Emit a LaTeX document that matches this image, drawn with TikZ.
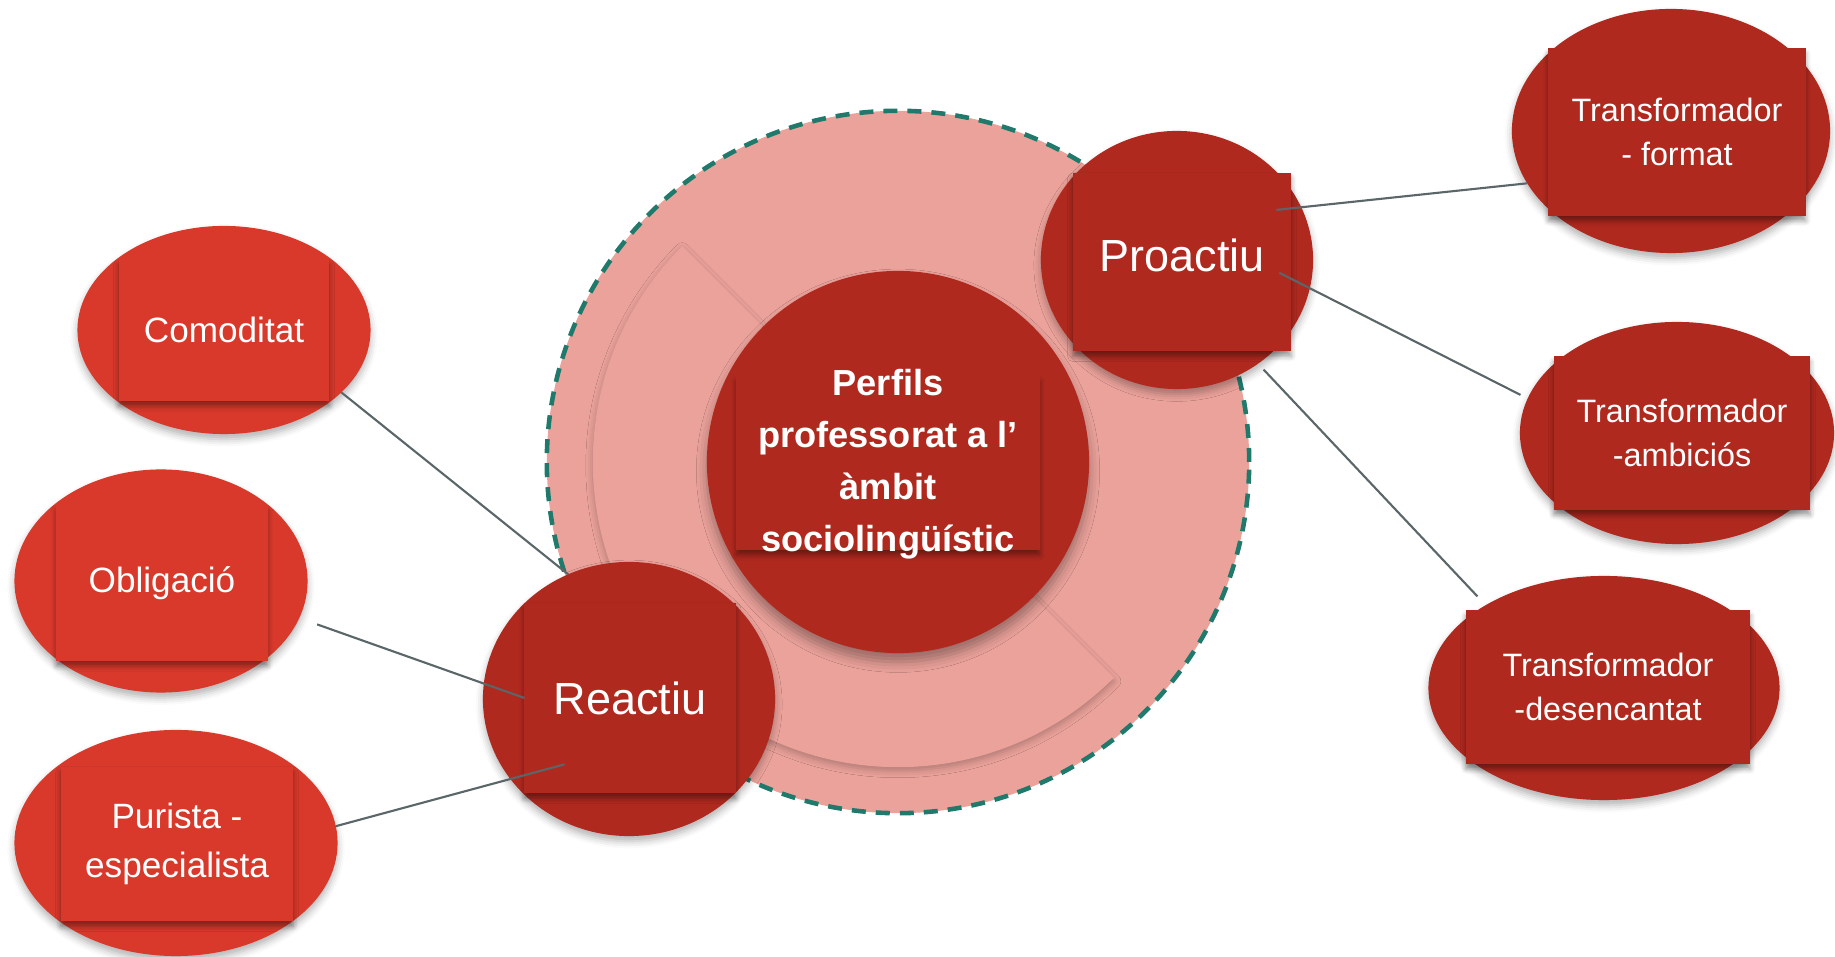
\documentclass[tikz,border=0pt]{standalone}
\usepackage{fontspec}
\setmainfont{Liberation Sans}
\usepackage{tikz}
\usetikzlibrary{positioning,shapes.geometric,shadows.blur}
\definecolor{deepred}{HTML}{B0291F}
\definecolor{brightred}{HTML}{D8392B}
\definecolor{softpink}{HTML}{EBA29B}
\definecolor{dashteal}{HTML}{1F7A6C}
\definecolor{linkgray}{HTML}{5A6668}

\begin{document}
\begin{tikzpicture}[x=0.01cm, y=0.01cm,
    hub/.style={circle, fill=deepred, inner sep=0pt, outer sep=0pt, minimum size=3.82cm,
        blur shadow={shadow xshift=0pt, shadow yshift=-2.5pt, shadow blur radius=3pt, shadow opacity=35}},
    branch/.style={ellipse, fill=deepred, inner sep=0pt, outer sep=0pt,
        blur shadow={shadow xshift=0pt, shadow yshift=-1.5pt, shadow blur radius=2pt, shadow opacity=30}},
    leftleaf/.style={ellipse, fill=brightred, inner sep=0pt, outer sep=0pt,
        blur shadow={shadow xshift=0pt, shadow yshift=-1.5pt, shadow blur radius=2pt, shadow opacity=30}},
    rightleaf/.style={branch},
    tag/.style={rectangle, fill=deepred, inner sep=0pt, outer sep=0pt, text=white, align=center,
        blur shadow={shadow xshift=0pt, shadow yshift=-1.5pt, shadow blur radius=1.5pt, shadow opacity=40}},
    lefttag/.style={tag, fill=brightred, font=\fontsize{10}{13.9}\selectfont},
    righttag/.style={tag, font=\fontsize{9.2}{12.4}\selectfont},
    bigtag/.style={tag, font=\fontsize{12.8}{15}\selectfont},
    link/.style={draw=linkgray, line width=0.6pt}
]
\useasboundingbox (0,0) rectangle (1835,957);

% Core rings
\coordinate (core) at (898,495);
\draw[fill=softpink, draw=dashteal, line width=1.3pt, dash pattern=on 0.14cm off 0.1cm]
    (core) circle[radius=3.51cm];
\fill[softpink, blur shadow={shadow xshift=0pt, shadow yshift=-1pt, shadow blur radius=2pt, shadow opacity=25}]
    (core) -- ++(135:3.05cm) arc[start angle=135, end angle=315, radius=3.05cm] -- cycle;

% Centre
\node[hub] (perfils) at (core) {};
\node[tag, minimum width=3.03cm, minimum height=1.73cm] (perfilsbox) at (888,494) {};
\node[text=white, align=center, font=\bfseries\fontsize{10.3}{14.8}\selectfont] (perfilstxt) at (888,493)
    {Perfils\\professorat a l’\\àmbit\\sociolingüístic};

% Two profiles
\node[branch, minimum width=2.92cm, minimum height=2.74cm] (reactiu) at (629,258) {};
\node[bigtag, minimum width=2.11cm, minimum height=1.90cm] (reactiubox) at (630,259) {Reactiu};
\node[branch, minimum width=2.72cm, minimum height=2.58cm] (proactiu) at (1177,697) {};
\node[bigtag, minimum width=2.18cm, minimum height=1.78cm, text depth=0.14cm] (proactiubox) at (1182,695) {Proactiu};

% Reactive side
\node[leftleaf, minimum width=2.93cm, minimum height=2.08cm] (comoditat) at (224,627) {};
\node[lefttag, minimum width=2.10cm, minimum height=1.41cm] (comoditatbox) at (224,627) {Comoditat};
\node[leftleaf, minimum width=2.93cm, minimum height=2.23cm] (obligacio) at (161,376) {};
\node[lefttag, minimum width=2.11cm, minimum height=1.55cm] (obligaciobox) at (162,374) {Obligació};
\node[leftleaf, minimum width=3.23cm, minimum height=2.26cm] (purista) at (176,114) {};
\node[lefttag, minimum width=2.32cm, minimum height=1.54cm] (puristabox) at (177,113) {Purista -\\especialista};

% Proactive side
\node[rightleaf, minimum width=3.18cm, minimum height=2.44cm] (format) at (1671,826) {};
\node[righttag, minimum width=2.57cm, minimum height=1.67cm] (formatbox) at (1677,825) {Transformador\\- format};
\node[rightleaf, minimum width=3.14cm, minimum height=2.22cm] (ambicios) at (1677,524) {};
\node[righttag, minimum width=2.56cm, minimum height=1.53cm] (ambiciosbox) at (1682,524) {Transformador\\-ambiciós};
\node[rightleaf, minimum width=3.51cm, minimum height=2.24cm] (desencantat) at (1604,269) {};
\node[righttag, minimum width=2.84cm, minimum height=1.53cm] (desencantatbox) at (1608,270) {Transformador\\-desencantat};

% Links
\draw[link] (comoditat.-28) -- (reactiu.116);
\draw[link, shorten <=0.19cm] (obligacio.-15) -- (reactiubox.west);
\draw[link, shorten >=-0.56cm] (purista.6) -- (reactiu.214);
\draw[link, shorten <=-0.25cm] (proactiu.23) -- (format.200);
\draw[link, shorten <=-0.34cm, shorten >=0.08cm] (proactiu.-12) -- (ambicios.167);
\draw[link, shorten <=0.08cm, shorten >=0.12cm] (proactiu.-52) -- (desencantat.145);

\end{tikzpicture}
\end{document}
